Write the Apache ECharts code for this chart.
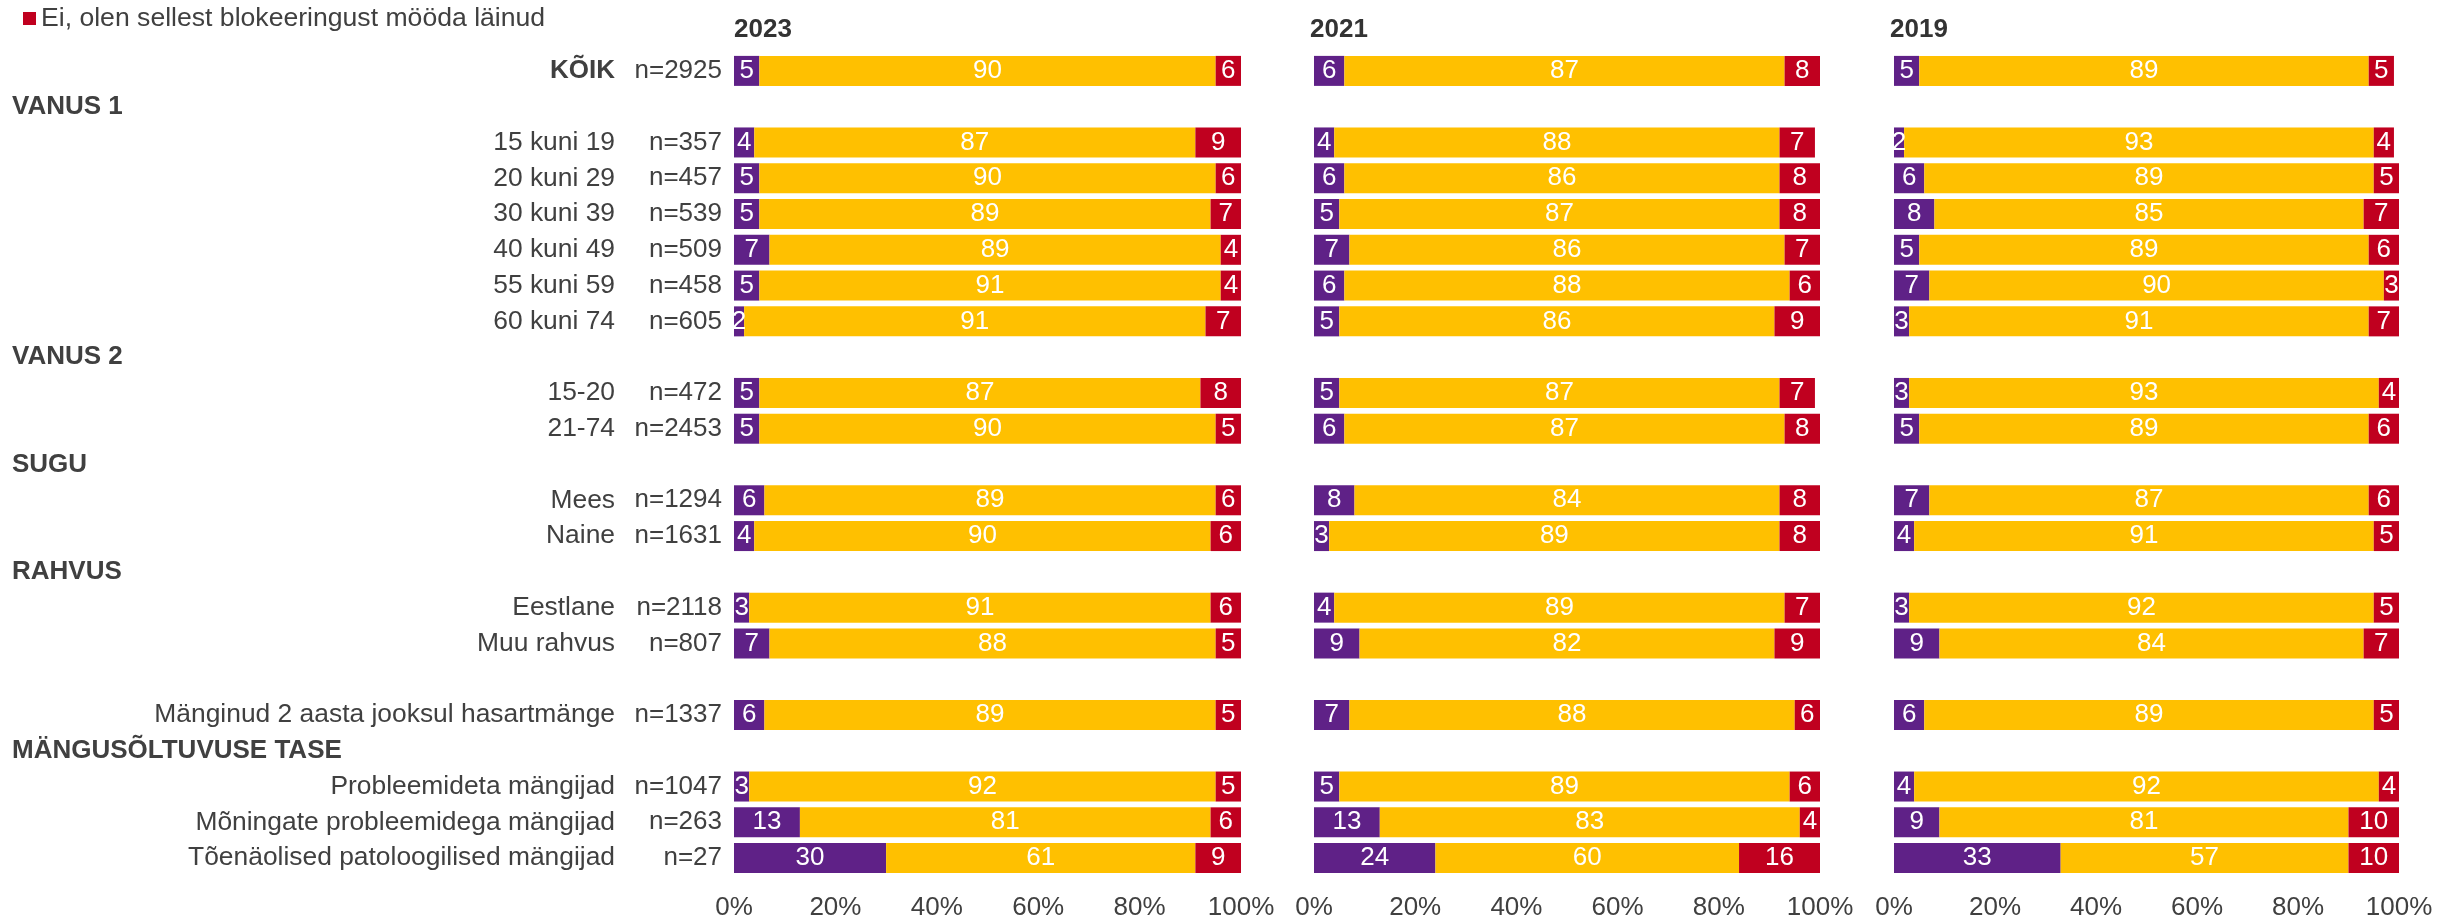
<!DOCTYPE html>
<html>
<head>
<meta charset="utf-8">
<script src="https://cdn.jsdelivr.net/npm/echarts@6/dist/echarts.min.js"></script>
<style>
html,body{margin:0;padding:0;background:#fff;}
#chart{width:2438px;height:921px;}
</style>
</head>
<body>
<div id="chart"></div>
<script>
// ---- Data ----
const rowLabels = ['KÕIK', 'VANUS 1', '15 kuni 19', '20 kuni 29', '30 kuni 39', '40 kuni 49', '55 kuni 59', '60 kuni 74',
  'VANUS 2', '15-20', '21-74', 'SUGU', 'Mees', 'Naine', 'RAHVUS', 'Eestlane', 'Muu rahvus', '',
  'Mänginud 2 aasta jooksul hasartmänge', 'MÄNGUSÕLTUVUSE TASE', 'Probleemideta mängijad',
  'Mõningate probleemidega mängijad', 'Tõenäolised patoloogilised mängijad'];
const sampleSizes = ['n=2925', '', 'n=357', 'n=457', 'n=539', 'n=509', 'n=458', 'n=605',
  '', 'n=472', 'n=2453', '', 'n=1294', 'n=1631', '', 'n=2118', 'n=807', '',
  'n=1337', '', 'n=1047', 'n=263', 'n=27'];
const headerRows = ['VANUS 1', 'VANUS 2', 'SUGU', 'RAHVUS', 'MÄNGUSÕLTUVUSE TASE'];
const boldRows = ['KÕIK'];

const years = ['2023', '2021', '2019'];
const seriesNames = ['Jah', 'Ei ole blokeeringuga kokku puutunud', 'Ei, olen sellest blokeeringust mööda läinud'];
const legendItems = ['Ei, olen sellest blokeeringust mööda läinud'];
const xTicks = [0, 20, 40, 60, 80, 100];

const purple2023 = [5, null, 4, 5, 5, 7, 5, 2, null, 5, 5, null, 6, 4, null, 3, 7, null, 6, null, 3, 13, 30];
const yellow2023 = [90, null, 87, 90, 89, 89, 91, 91, null, 87, 90, null, 89, 90, null, 91, 88, null, 89, null, 92, 81, 61];
const red2023    = [6, null, 9, 6, 7, 4, 4, 7, null, 8, 5, null, 6, 6, null, 6, 5, null, 5, null, 5, 6, 9];

const purple2021 = [6, null, 4, 6, 5, 7, 6, 5, null, 5, 6, null, 8, 3, null, 4, 9, null, 7, null, 5, 13, 24];
const yellow2021 = [87, null, 88, 86, 87, 86, 88, 86, null, 87, 87, null, 84, 89, null, 89, 82, null, 88, null, 89, 83, 60];
const red2021    = [8, null, 7, 8, 8, 7, 6, 9, null, 7, 8, null, 8, 8, null, 7, 9, null, 6, null, 6, 4, 16];

const purple2019 = [5, null, 2, 6, 8, 5, 7, 3, null, 3, 5, null, 7, 4, null, 3, 9, null, 6, null, 4, 9, 33];
const yellow2019 = [89, null, 93, 89, 85, 89, 90, 91, null, 93, 89, null, 87, 91, null, 92, 84, null, 89, null, 92, 81, 57];
const red2019    = [5, null, 4, 5, 7, 6, 3, 7, null, 4, 6, null, 6, 5, null, 5, 7, null, 5, null, 4, 10, 10];

const yearData = [
  [purple2023, yellow2023, red2023],
  [purple2021, yellow2021, red2021],
  [purple2019, yellow2019, red2019]
];

// ---- Styles ----
const FONT = '"Liberation Sans", Arial, sans-serif';
const TXT = '#404040';
const colors = ['#5F2187', '#FFC000', '#C0001F'];
const gridLefts = [734, 1314, 1894];
const gridWidths = [507, 506, 505];
const GRID_TOP = 53, GRID_H = 823;

const grids = [], xAxes = [], yAxes = [], series = [], titles = [];
years.forEach((yr, g) => {
  grids.push({ left: gridLefts[g], width: gridWidths[g], top: GRID_TOP, height: GRID_H, outerBoundsMode: 'none', containLabel: false });
  titles.push({ text: yr, left: gridLefts[g] - (g === 0 ? 0 : 4), top: 17, padding: 0,
    textStyle: { fontFamily: FONT, fontSize: 26, fontWeight: 'bold', color: '#333333' } });
  xAxes.push({
    type: 'value', gridIndex: g, min: xTicks[0], max: xTicks[xTicks.length - 1], interval: xTicks[1] - xTicks[0],
    axisLine: { show: false }, axisTick: { show: false }, splitLine: { show: false },
    axisLabel: { formatter: '{value}%', fontFamily: FONT, fontSize: 26, color: TXT, margin: 19 }
  });
  const yAx = {
    type: 'category', gridIndex: g, data: rowLabels, inverse: true,
    axisLine: { show: false }, axisTick: { show: false }, splitLine: { show: false }
  };
  if (g === 0) {
    yAx.axisLabel = {
      interval: 0, margin: 12, fontFamily: FONT, fontSize: 26, color: TXT,
      formatter: (v, i) => {
        if (headerRows.includes(v)) return '{h|' + v + '}';
        if (v === '') return '';
        const key = boldRows.includes(v) ? 'k' : 'c';
        return '{' + key + '|' + v + '}{n|' + sampleSizes[i] + '}';
      },
      rich: {
        h: { fontFamily: FONT, fontSize: 26, fontWeight: 'bold', color: TXT, width: 710, align: 'left' },
        k: { fontFamily: FONT, fontSize: 26, fontWeight: 'bold', color: TXT, width: 600, align: 'right' },
        c: { fontFamily: FONT, fontSize: 26.4, color: TXT, width: 600, align: 'right' },
        n: { fontFamily: FONT, fontSize: 26, color: TXT, width: 107, align: 'right' }
      }
    };
  } else {
    yAx.axisLabel = { show: false };
  }
  yAxes.push(yAx);
  seriesNames.forEach((nm, s) => {
    series.push({
      name: nm, type: 'bar', stack: 'st' + g, xAxisIndex: g, yAxisIndex: g,
      data: yearData[g][s], barWidth: 30,
      itemStyle: { color: colors[s] },
      label: { show: true, position: 'inside', color: '#ffffff', fontFamily: FONT, fontSize: 26 },
      emphasis: { disabled: true }
    });
  });
});

const chart = echarts.init(document.getElementById('chart'), null, { renderer: 'canvas' });
chart.setOption({
  animation: false,
  backgroundColor: '#ffffff',
  title: titles,
  legend: {
    data: legendItems, left: 23, top: 5, padding: 0, icon: 'rect', itemWidth: 13, itemHeight: 13,
    selectedMode: false,
    textStyle: { fontFamily: FONT, fontSize: 26.6, color: TXT }
  },
  grid: grids, xAxis: xAxes, yAxis: yAxes, series: series
});
</script>
</body>
</html>
